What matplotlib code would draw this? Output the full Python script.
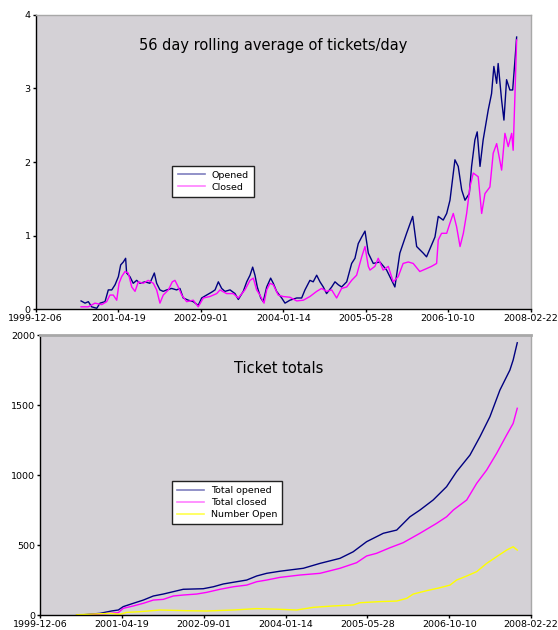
import numpy as np
import matplotlib
matplotlib.use("Agg")
import matplotlib.pyplot as plt
from matplotlib.lines import Line2D

# x values are days since 1999-12-06
tick_days = [0, 500, 1000, 1500, 2000, 2500, 3000]
tick_labels = ["1999-12-06", "2001-04-19", "2002-09-01", "2004-01-14",
               "2005-05-28", "2006-10-10", "2008-02-22"]

opened_days = [275, 299, 319, 339, 370, 390, 420, 440, 461, 481, 501, 515, 531, 545, 551,
               571, 591, 612, 632, 662, 692, 719, 733, 753, 773, 794, 824, 854, 874, 894,
               925, 955, 985, 1006, 1036, 1067, 1087, 1107, 1127, 1147, 1178, 1208, 1228,
               1258, 1279, 1299, 1315, 1329, 1343, 1364, 1379, 1400, 1424, 1440, 1460, 1491,
               1511, 1541, 1582, 1612, 1632, 1662, 1682, 1703, 1723, 1743, 1763, 1794, 1814,
               1834, 1854, 1885, 1915, 1935, 1955, 1976, 1996, 2016, 2046, 2086, 2127, 2177,
               2207, 2248, 2285, 2309, 2349, 2369, 2420, 2440, 2470, 2491, 2511, 2541, 2561,
               2582, 2602, 2628, 2642, 2662, 2676, 2693, 2712, 2743, 2763, 2777, 2794, 2803,
               2824, 2838, 2854, 2874, 2891, 2905, 2915]
opened_rate = [0.11, 0.08, 0.10, 0.03, 0.01, 0.08, 0.10, 0.26, 0.26, 0.33, 0.44, 0.60, 0.64,
               0.69, 0.49, 0.44, 0.35, 0.39, 0.35, 0.37, 0.35, 0.49, 0.35, 0.26, 0.24, 0.26,
               0.28, 0.26, 0.28, 0.15, 0.12, 0.10, 0.05, 0.15, 0.19, 0.23, 0.26, 0.37, 0.28,
               0.24, 0.26, 0.21, 0.13, 0.24, 0.37, 0.46, 0.57, 0.46, 0.30, 0.15, 0.10, 0.30,
               0.42, 0.35, 0.24, 0.15, 0.08, 0.12, 0.15, 0.15, 0.26, 0.39, 0.37, 0.46, 0.37,
               0.30, 0.21, 0.30, 0.37, 0.33, 0.30, 0.37, 0.62, 0.69, 0.89, 0.98, 1.06, 0.76,
               0.62, 0.64, 0.53, 0.30, 0.76, 1.03, 1.26, 0.85, 0.76, 0.71, 0.98, 1.26, 1.21,
               1.30, 1.48, 2.03, 1.94, 1.62, 1.48, 1.57, 1.94, 2.30, 2.41, 1.94, 2.30, 2.71,
               2.93, 3.30, 3.07, 3.34, 2.84, 2.57, 3.12, 2.98, 2.98, 3.39, 3.70]

closed_days = [275, 319, 359, 400, 430, 450, 470, 491, 505, 521, 541, 561, 582, 602, 622,
               652, 682, 713, 733, 753, 773, 804, 828, 844, 864, 885, 915, 955, 985, 1016,
               1056, 1097, 1117, 1157, 1197, 1228, 1268, 1299, 1319, 1339, 1359, 1384, 1400,
               1420, 1440, 1470, 1500, 1541, 1582, 1622, 1662, 1703, 1733, 1763, 1794, 1824,
               1854, 1885, 1915, 1945, 1976, 1996, 2016, 2026, 2056, 2076, 2106, 2137, 2167,
               2197, 2227, 2258, 2288, 2328, 2369, 2399, 2430, 2440, 2460, 2491, 2511, 2531,
               2551, 2572, 2592, 2612, 2632, 2652, 2682, 2703, 2723, 2753, 2773, 2794, 2824,
               2844, 2864, 2885, 2894, 2905, 2915]
closed_rate = [0.03, 0.03, 0.08, 0.06, 0.10, 0.19, 0.19, 0.12, 0.35, 0.44, 0.51, 0.49, 0.30,
               0.24, 0.37, 0.35, 0.39, 0.35, 0.26, 0.08, 0.19, 0.26, 0.37, 0.39, 0.30, 0.19,
               0.10, 0.12, 0.03, 0.15, 0.17, 0.21, 0.26, 0.21, 0.21, 0.15, 0.26, 0.39, 0.42,
               0.26, 0.19, 0.08, 0.26, 0.35, 0.33, 0.19, 0.17, 0.16, 0.11, 0.12, 0.17, 0.24,
               0.28, 0.24, 0.26, 0.15, 0.28, 0.30, 0.39, 0.46, 0.71, 0.85, 0.58, 0.53, 0.58,
               0.69, 0.53, 0.58, 0.37, 0.44, 0.62, 0.64, 0.62, 0.51, 0.55, 0.58, 0.62, 0.94,
               1.03, 1.03, 1.17, 1.30, 1.12, 0.85, 1.03, 1.30, 1.66, 1.85, 1.80, 1.30, 1.57,
               1.66, 2.12, 2.25, 1.89, 2.39, 2.21, 2.39, 2.16, 2.93, 3.66]

total_opened_days = [222, 365, 436, 477, 507, 569, 630, 691, 752, 813, 874, 935, 996, 1058,
                     1119, 1180, 1262, 1323, 1384, 1465, 1608, 1710, 1832, 1913, 1995, 2097,
                     2179, 2260, 2321, 2402, 2484, 2545, 2627, 2688, 2749, 2810, 2871, 2891, 2916]
total_opened = [0, 14, 31, 38, 62, 86, 109, 138, 152, 169, 186, 188, 190, 204, 224, 236, 252,
                281, 300, 315, 336, 371, 407, 454, 526, 586, 609, 704, 752, 824, 919, 1026,
                1145, 1276, 1419, 1609, 1752, 1824, 1947]

total_closed_days = [222, 426, 477, 507, 569, 630, 691, 752, 813, 874, 956, 1017, 1099, 1180,
                     1262, 1323, 1384, 1465, 1588, 1710, 1832, 1934, 1995, 2056, 2138, 2219,
                     2321, 2423, 2484, 2525, 2607, 2668, 2729, 2790, 2851, 2891, 2916]
total_closed = [0, 14, 19, 50, 67, 86, 109, 114, 138, 145, 152, 164, 186, 204, 216, 240, 252,
                271, 288, 300, 336, 376, 424, 443, 483, 519, 586, 657, 704, 752, 824, 943,
                1038, 1157, 1288, 1371, 1479]

open_days = [222, 426, 487, 528, 609, 732, 895, 1017, 1180, 1323, 1465, 1567, 1669, 1791,
             1913, 1954, 2077, 2179, 2240, 2280, 2362, 2443, 2505, 2545, 2607, 2668, 2729,
             2790, 2851, 2891, 2916]
number_open = [4, 14, 7, 21, 26, 38, 33, 31, 38, 48, 43, 38, 57, 67, 74, 90, 98, 102, 121,
               152, 176, 197, 216, 252, 281, 312, 371, 419, 466, 490, 466]

NAVY = "#000080"
MAG = "#ff00ff"
YEL = "#ffff00"
BG = "#d4d1d6"

fig = plt.figure(figsize=(5.58, 6.30), dpi=100)
ax1 = fig.add_axes([0.064, 0.5095, 0.887, 0.4667])
ax2 = fig.add_axes([0.0722, 0.0233, 0.8794, 0.4444])


def style(ax, ymax, yticks):
    ax.set_facecolor(BG)
    ax.set_xlim(0, 3000)
    ax.set_ylim(0, ymax)
    ax.set_xticks(tick_days)
    ax.set_xticklabels(tick_labels)
    ax.set_yticks(yticks)
    ax.tick_params(axis="both", direction="out", length=2.4, width=1, labelsize=6.8,
                   colors="black", pad=1.2)
    ax.tick_params(axis="both", which="both", top=False, right=False)
    for s in ("left", "bottom"):
        ax.spines[s].set_color("black")
        ax.spines[s].set_linewidth(1)
    for s in ("top", "right"):
        ax.spines[s].set_color("#a8a8a8")
        ax.spines[s].set_linewidth(1)


ax1.plot(opened_days, opened_rate, color=NAVY, lw=1)
ax1.plot(closed_days, closed_rate, color=MAG, lw=1)
style(ax1, 4, [0, 1, 2, 3, 4])
ax1.text(0.48, 0.897, "56 day rolling average of tickets/day", transform=ax1.transAxes,
         ha="center", va="center", fontsize=10.5)
h1 = [Line2D([], [], color=NAVY, lw=1.2, alpha=0.5),
      Line2D([], [], color=MAG, lw=1.2, alpha=0.5)]
ax1.legend(h1, ["Opened", "Closed"], loc="upper left", bbox_to_anchor=(0.276, 0.488),
           fontsize=6.8, frameon=True, fancybox=False, edgecolor="#222222",
           framealpha=1, handlelength=2.9, handletextpad=0.7, borderpad=0.55,
           labelspacing=0.3, borderaxespad=0)

ax2.plot(total_opened_days, total_opened, color=NAVY, lw=1)
ax2.plot(total_closed_days, total_closed, color=MAG, lw=1)
ax2.plot(open_days, number_open, color=YEL, lw=1)
style(ax2, 2000, [0, 500, 1000, 1500, 2000])
ax2.spines["top"].set_linewidth(2)
ax2.text(0.485, 0.88, "Ticket totals", transform=ax2.transAxes,
         ha="center", va="center", fontsize=10.5)
h2 = [Line2D([], [], color=NAVY, lw=1.2, alpha=0.5),
      Line2D([], [], color=MAG, lw=1.2, alpha=0.5),
      Line2D([], [], color=YEL, lw=1.2, alpha=0.7)]
ax2.legend(h2, ["Total opened", "Total closed", "Number Open"], loc="upper left",
           bbox_to_anchor=(0.269, 0.478), fontsize=6.8, frameon=True, fancybox=False,
           edgecolor="#222222", framealpha=1, handlelength=2.9, handletextpad=0.7,
           borderpad=0.5, labelspacing=0.3, borderaxespad=0)

fig.savefig("out.png", dpi=100, facecolor="white")
